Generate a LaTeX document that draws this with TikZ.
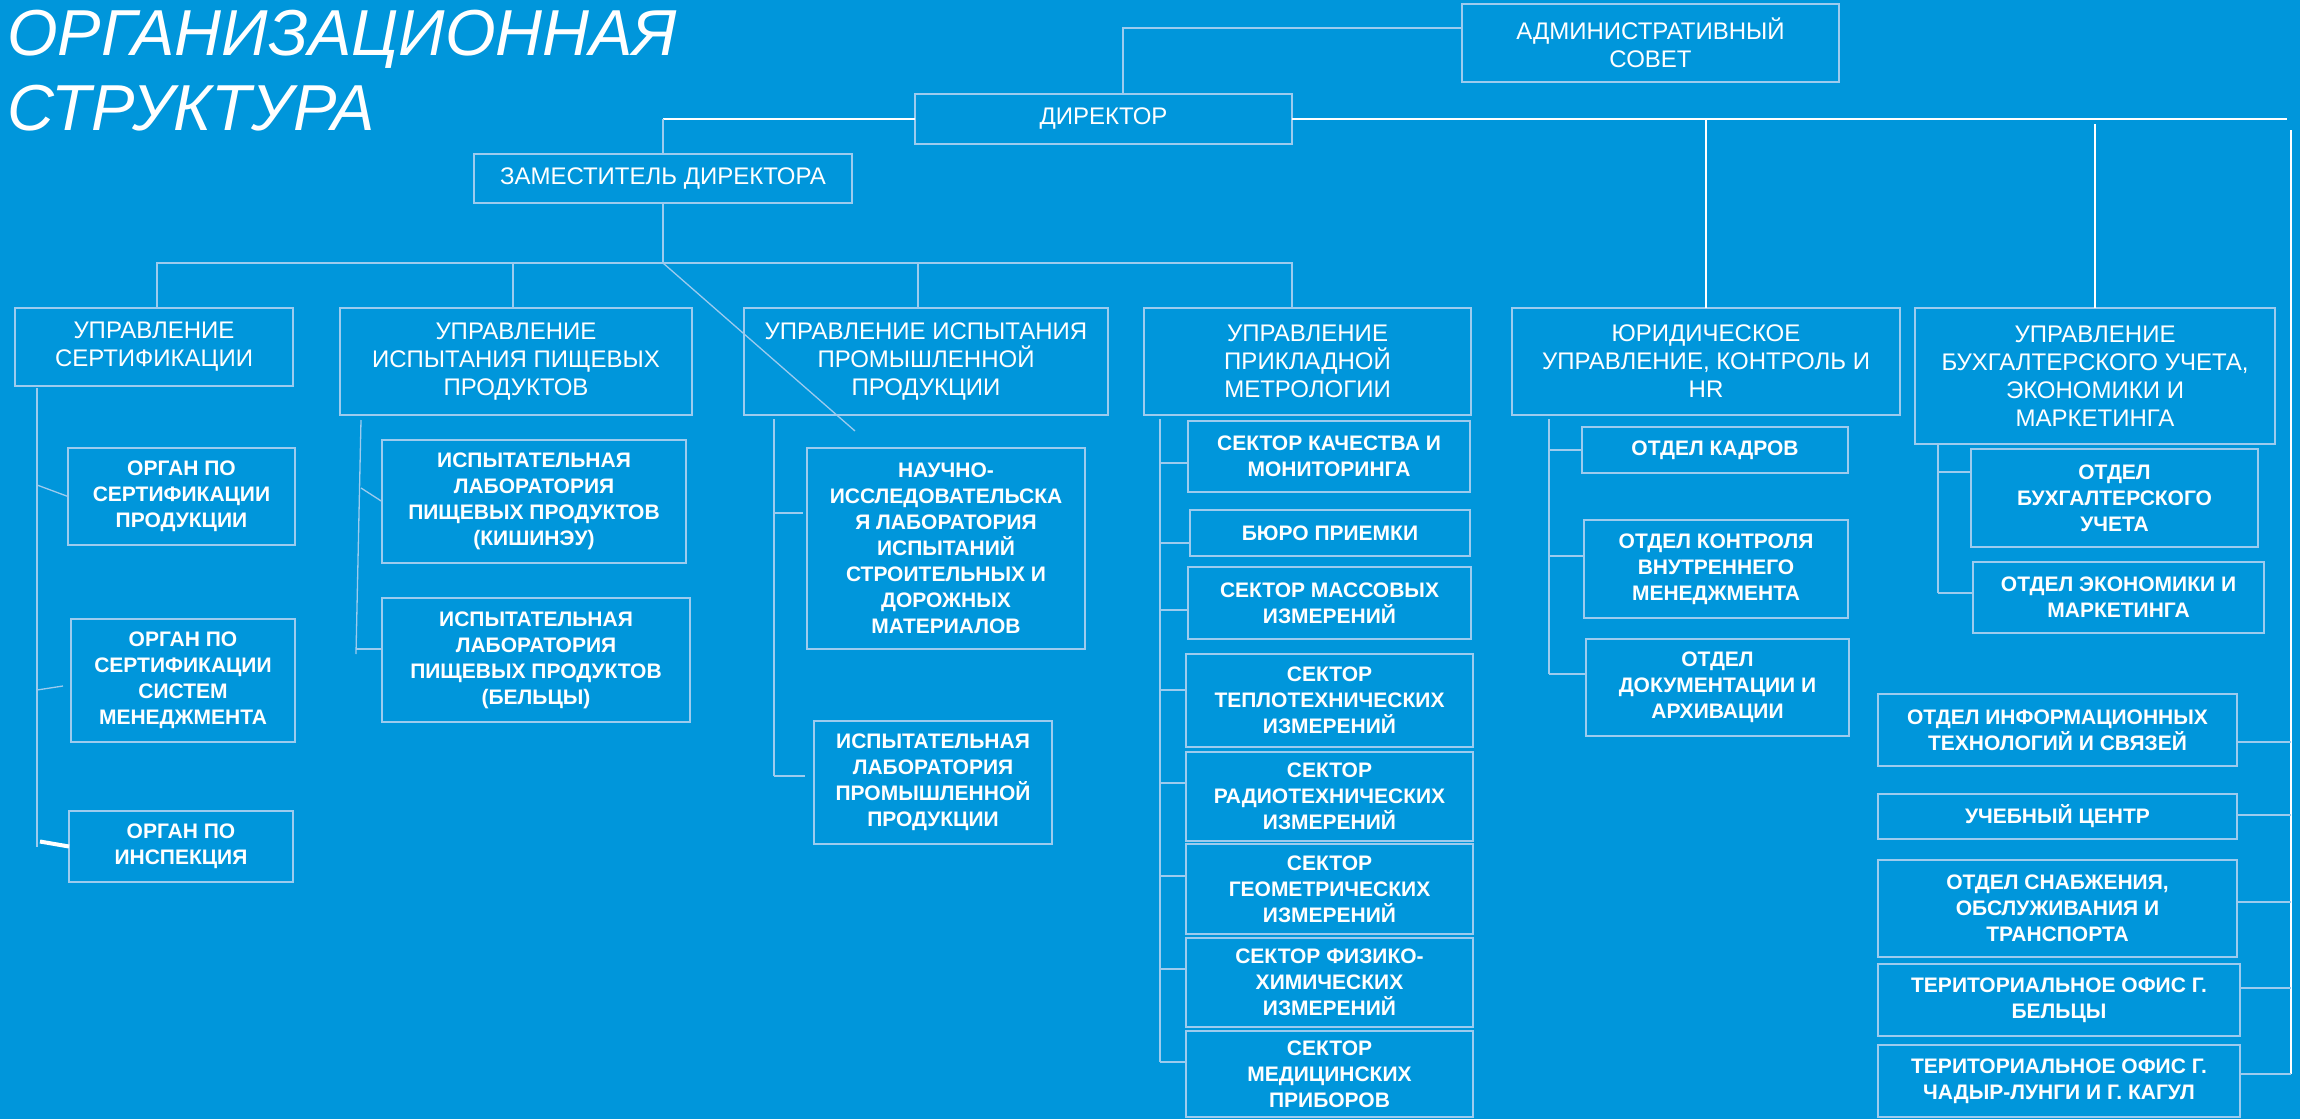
\documentclass[tikz,border=0pt]{standalone}
\usepackage{fontspec}
\setmainfont{Liberation Sans}
\usetikzlibrary{calc}
\definecolor{bgblue}{RGB}{0,150,219}
\definecolor{edgeblue}{RGB}{157,203,238}
\begin{document}
\begin{tikzpicture}[x=1pt,y=-1pt,
  unitbox/.style={draw=edgeblue, line width=1.6pt, text=white, align=center, anchor=north west, inner sep=0pt, outer sep=0pt},
  headbox/.style={unitbox, font=\fontsize{24}{28}\selectfont},
  subbox/.style={unitbox, font=\bfseries\fontsize{21}{26}\selectfont},
  titletext/.style={anchor=base west, inner sep=0pt, text=white, font=\itshape\fontsize{65}{75}\selectfont},
  conn/.style={draw=edgeblue, line width=1.3pt},
  wconn/.style={draw=white, line width=1.8pt}]
\fill[bgblue] (0,0) rectangle (2300,1119);
\useasboundingbox (0,0) rectangle (2300,1119);

\node (title1) at (7,55) [titletext] {ОРГАНИЗАЦИОННАЯ};
\node (title2) at (7,130) [titletext] {СТРУКТУРА};

\node (adm) at (1462,4) [headbox, minimum width=377pt, minimum height=78pt] {АДМИНИСТРАТИВНЫЙ\\СОВЕТ};
\node (dir) at (915,94) [headbox, minimum width=377pt, minimum height=50pt] {ДИРЕКТОР};
\node (dep) at (474,154) [headbox, minimum width=378pt, minimum height=49pt] {ЗАМЕСТИТЕЛЬ ДИРЕКТОРА};

\node (d1) at (15,308) [headbox, minimum width=278pt, minimum height=78pt] {УПРАВЛЕНИЕ\\СЕРТИФИКАЦИИ};
\node (d2) at (340,308) [headbox, minimum width=352pt, minimum height=107pt] {УПРАВЛЕНИЕ\\ИСПЫТАНИЯ ПИЩЕВЫХ\\ПРОДУКТОВ};
\node (d3) at (744,308) [headbox, minimum width=364pt, minimum height=107pt] {УПРАВЛЕНИЕ ИСПЫТАНИЯ\\ПРОМЫШЛЕННОЙ\\ПРОДУКЦИИ};
\node (d4) at (1144,308) [headbox, minimum width=327pt, minimum height=107pt] {УПРАВЛЕНИЕ\\ПРИКЛАДНОЙ\\МЕТРОЛОГИИ};
\node (d5) at (1512,308) [headbox, minimum width=388pt, minimum height=107pt] {ЮРИДИЧЕСКОЕ\\УПРАВЛЕНИЕ, КОНТРОЛЬ И\\HR};
\node (d6) at (1915,308) [headbox, minimum width=360pt, minimum height=136pt] {УПРАВЛЕНИЕ\\БУХГАЛТЕРСКОГО УЧЕТА,\\ЭКОНОМИКИ И\\МАРКЕТИНГА};

\node (c11) at (68,448) [subbox, minimum width=227pt, minimum height=97pt] {ОРГАН ПО\\СЕРТИФИКАЦИИ\\ПРОДУКЦИИ};
\node (c12) at (71,619) [subbox, minimum width=224pt, minimum height=123pt] {ОРГАН ПО\\СЕРТИФИКАЦИИ\\СИСТЕМ\\МЕНЕДЖМЕНТА};
\node (c13) at (69,811) [subbox, minimum width=224pt, minimum height=71pt] {ОРГАН ПО\\ИНСПЕКЦИЯ};

\node (c21) at (382,440) [subbox, minimum width=304pt, minimum height=123pt] {ИСПЫТАТЕЛЬНАЯ\\ЛАБОРАТОРИЯ\\ПИЩЕВЫХ ПРОДУКТОВ\\(КИШИНЭУ)};
\node (c22) at (382,598) [subbox, minimum width=308pt, minimum height=124pt] {ИСПЫТАТЕЛЬНАЯ\\ЛАБОРАТОРИЯ\\ПИЩЕВЫХ ПРОДУКТОВ\\(БЕЛЬЦЫ)};

\node (c31) at (807,448) [subbox, minimum width=278pt, minimum height=201pt] {НАУЧНО-\\ИССЛЕДОВАТЕЛЬСКА\\Я ЛАБОРАТОРИЯ\\ИСПЫТАНИЙ\\СТРОИТЕЛЬНЫХ И\\ДОРОЖНЫХ\\МАТЕРИАЛОВ};
\node (c32) at (814,721) [subbox, minimum width=238pt, minimum height=123pt] {ИСПЫТАТЕЛЬНАЯ\\ЛАБОРАТОРИЯ\\ПРОМЫШЛЕННОЙ\\ПРОДУКЦИИ};

\node (m1) at (1188,421) [subbox, minimum width=282pt, minimum height=71pt] {СЕКТОР КАЧЕСТВА И\\МОНИТОРИНГА};
\node (m2) at (1190,510) [subbox, minimum width=280pt, minimum height=46pt] {БЮРО ПРИЕМКИ};
\node (m3) at (1188,567) [subbox, minimum width=283pt, minimum height=72pt] {СЕКТОР МАССОВЫХ\\ИЗМЕРЕНИЙ};
\node (m4) at (1186,654) [subbox, minimum width=287pt, minimum height=93pt] {СЕКТОР\\ТЕПЛОТЕХНИЧЕСКИХ\\ИЗМЕРЕНИЙ};
\node (m5) at (1186,752) [subbox, minimum width=287pt, minimum height=89pt] {СЕКТОР\\РАДИОТЕХНИЧЕСКИХ\\ИЗМЕРЕНИЙ};
\node (m6) at (1186,844) [subbox, minimum width=287pt, minimum height=90pt] {СЕКТОР\\ГЕОМЕТРИЧЕСКИХ\\ИЗМЕРЕНИЙ};
\node (m7) at (1186,938) [subbox, minimum width=287pt, minimum height=89pt] {СЕКТОР ФИЗИКО-\\ХИМИЧЕСКИХ\\ИЗМЕРЕНИЙ};
\node (m8) at (1186,1031) [subbox, minimum width=287pt, minimum height=86pt] {СЕКТОР\\МЕДИЦИНСКИХ\\ПРИБОРОВ};

\node (j1) at (1582,427) [subbox, minimum width=266pt, minimum height=46pt] {ОТДЕЛ КАДРОВ};
\node (j2) at (1584,520) [subbox, minimum width=264pt, minimum height=98pt] {ОТДЕЛ КОНТРОЛЯ\\ВНУТРЕННЕГО\\МЕНЕДЖМЕНТА};
\node (j3) at (1586,639) [subbox, minimum width=263pt, minimum height=97pt] {ОТДЕЛ\\ДОКУМЕНТАЦИИ И\\АРХИВАЦИИ};

\node (b1) at (1971,449) [subbox, minimum width=287pt, minimum height=98pt] {ОТДЕЛ\\БУХГАЛТЕРСКОГО\\УЧЕТА};
\node (b2) at (1973,562) [subbox, minimum width=291pt, minimum height=71pt] {ОТДЕЛ ЭКОНОМИКИ И\\МАРКЕТИНГА};

\node (r1) at (1878,694) [subbox, minimum width=359pt, minimum height=72pt] {ОТДЕЛ ИНФОРМАЦИОННЫХ\\ТЕХНОЛОГИЙ И СВЯЗЕЙ};
\node (r2) at (1878,794) [subbox, minimum width=359pt, minimum height=45pt] {УЧЕБНЫЙ ЦЕНТР};
\node (r3) at (1878,860) [subbox, minimum width=359pt, minimum height=97pt] {ОТДЕЛ СНАБЖЕНИЯ,\\ОБСЛУЖИВАНИЯ И\\ТРАНСПОРТА};
\node (r4) at (1878,964) [subbox, minimum width=362pt, minimum height=72pt] {ТЕРИТОРИАЛЬНОЕ ОФИС Г.\\БЕЛЬЦЫ};
\node (r5) at (1878,1045) [subbox, minimum width=362pt, minimum height=72pt] {ТЕРИТОРИАЛЬНОЕ ОФИС Г.\\ЧАДЫР-ЛУНГИ И Г. КАГУЛ};

\coordinate (hub) at (663,263);
\coordinate (tip) at (855,431);
\coordinate (rend) at (2287,119);
\coordinate (s1) at (37,388);
\coordinate (s2) at (361,420);
\coordinate (s3) at (774,419);
\coordinate (s4) at (1160,419);
\coordinate (s5) at (1549,419);
\coordinate (s6) at (1938,444);
\coordinate (s7) at (2291,130);

\draw[conn] ($(adm.west)+(0,-15)$) -| ($(dir.north)+(19.5,0)$);
\draw[wconn] (dir.west) -- (dir.west -| dep.north);
\draw[conn] (dir.west -| dep.north) -- (dep.north);
\draw[wconn] (dir.east) -- (rend);
\draw[wconn] (dir.east -| d5.north) -- (d5.north);
\draw[wconn] ($(d6.north |- dir.east)+(0,5)$) -- (d6.north);
\draw[wconn, line width=1.4pt] (s7) -- ($(s7 |- r5.east)+(0,-7)$);

\draw[conn] (dep.south) -- (hub);
\draw[conn] ($(d1.north)+(3,0)$) |- (hub) -| ($(d4.north)+(-15.5,0)$);
\draw[conn] ($(d2.north)+(-3,0)$) -- ($(d2.north |- hub)+(-3,0)$);
\draw[conn] ($(d3.north)+(-8,0)$) -- ($(d3.north |- hub)+(-8,0)$);
\draw[conn] (hub) -- (tip);

\draw[conn] (s1) -- (s1 |- c13.west);
\draw[conn] ($(s1 |- c11.west)+(0,-11.5)$) -- (c11.west);
\draw[conn] ($(s1 |- c12.west)+(0,9.5)$) -- ($(c12.west)+(-8,5.5)$);
\draw[wconn, line width=4pt] ($(s1 |- c13.west)+(3,-5)$) -- (c13.west);

\draw[conn] (s2) -- ($(s2 |- c22.west)+(-5,-6)$);
\draw[conn] ($(s2 |- c21.west)+(0,-13.5)$) -- (c21.west);
\draw[conn] ($(s2 |- c22.west)+(-5,-11)$) -- ($(c22.west)+(0,-11)$);

\draw[conn] (s3) -- ($(s3 |- c32.west)+(0,-6.5)$);
\draw[conn] ($(s3 |- c31.west)+(0,-35.5)$) -- ($(c31.west)+(-4,-35.5)$);
\draw[conn] ($(s3 |- c32.west)+(0,-6.5)$) -- ($(c32.west)+(-9,-6.5)$);

\draw[conn] (s4) -- ($(s4 |- m8.west)+(0,-12)$);
\foreach \n/\dy in {m1/6.5, m2/10, m3/7, m4/-10.5, m5/-13.5, m6/-13, m7/-13.5, m8/-12}
  \draw[conn] ($(s4 |- \n.west)+(0,\dy)$) -- ($(\n.west)+(0,\dy)$);

\draw[conn] (s5) -- ($(s5 |- j3.west)+(0,-13.5)$);
\foreach \n/\dy in {j1/0, j2/-13, j3/-13.5}
  \draw[conn] ($(s5 |- \n.west)+(0,\dy)$) -- ($(\n.west)+(0,\dy)$);

\draw[conn] (s6) -- ($(s6 |- b2.west)+(0,-4.5)$);
\foreach \n/\dy in {b1/-26, b2/-4.5}
  \draw[conn] ($(s6 |- \n.west)+(0,\dy)$) -- ($(\n.west)+(0,\dy)$);

\foreach \n/\dy in {r1/12, r2/-1.5, r3/-6.5, r4/-12, r5/-7}
  \draw[conn] ($(\n.east)+(0,\dy)$) -- ($(s7 |- \n.east)+(0,\dy)$);
\end{tikzpicture}
\end{document}
